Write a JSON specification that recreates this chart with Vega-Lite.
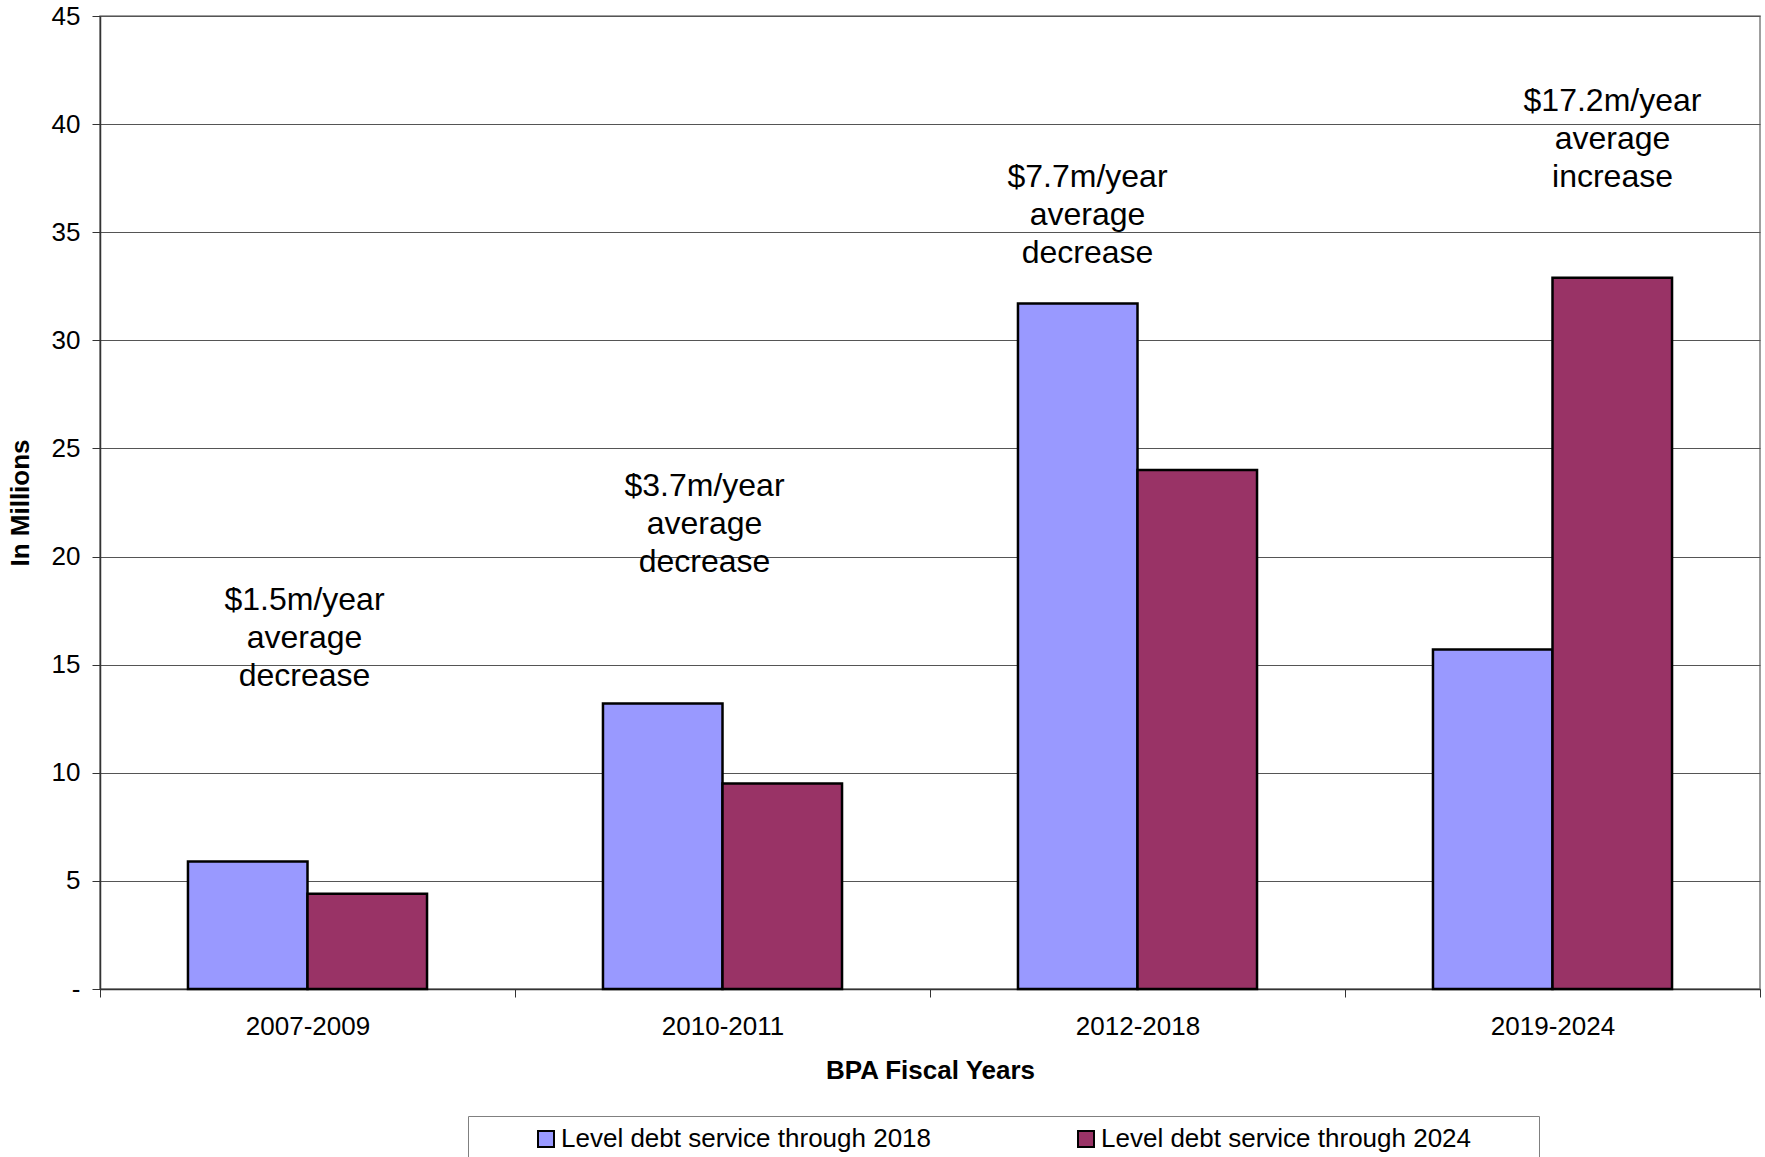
{
  "$schema": "https://vega.github.io/schema/vega-lite/v6.json",
  "autosize": "none",
  "width": 1660,
  "height": 973,
  "padding": {"left": 100, "top": 16, "right": 5, "bottom": 168},
  "background": "white",
  "config": {
    "font": "Liberation Sans",
    "view": {"stroke": "#808080", "strokeWidth": 1.5}
  },
  "datasets": {
    "bars": [
      {"period": "2007-2009", "series": "Level debt service through 2018", "value": 5.9},
      {"period": "2007-2009", "series": "Level debt service through 2024", "value": 4.4},
      {"period": "2010-2011", "series": "Level debt service through 2018", "value": 13.2},
      {"period": "2010-2011", "series": "Level debt service through 2024", "value": 9.5},
      {"period": "2012-2018", "series": "Level debt service through 2018", "value": 31.7},
      {"period": "2012-2018", "series": "Level debt service through 2024", "value": 24.0},
      {"period": "2019-2024", "series": "Level debt service through 2018", "value": 15.7},
      {"period": "2019-2024", "series": "Level debt service through 2024", "value": 32.9}
    ],
    "notes": [
      {"period": "2007-2009", "pos": 18.0, "text": ["$1.5m/year", "average", "decrease"]},
      {"period": "2010-2011", "pos": 23.25, "text": ["$3.7m/year", "average", "decrease"]},
      {"period": "2012-2018", "pos": 37.57, "text": ["$7.7m/year", "average", "decrease"]},
      {"period": "2019-2024", "pos": 41.06, "text": ["$17.2m/year", "average", "increase"]}
    ]
  },
  "layer": [
    {
      "data": {"name": "bars"},
      "mark": {"type": "bar", "stroke": "black", "strokeWidth": 2.5},
      "encoding": {
        "x": {
          "field": "period", "type": "nominal",
          "scale": {"paddingInner": 0, "paddingOuter": 0},
          "axis": {
            "title": "BPA Fiscal Years",
            "labelAngle": 0,
            "labelFontSize": 26,
            "labelColor": "black",
            "labelPadding": 16,
            "tickBand": "extent",
            "tickSize": 8,
            "tickColor": "#333",
            "domainColor": "#333",
            "domainWidth": 1.5,
            "titleFontSize": 26,
            "titleFontWeight": "bold",
            "titleColor": "black",
            "titlePadding": 18
          }
        },
        "xOffset": {"field": "series", "type": "nominal", "scale": {"paddingInner": 0, "paddingOuter": 0.736}},
        "y": {
          "field": "value", "type": "quantitative",
          "scale": {"domain": [0, 45], "nice": false},
          "axis": {
            "title": "In Millions",
            "values": [0, 5, 10, 15, 20, 25, 30, 35, 40, 45],
            "labelExpr": "datum.value == 0 ? '-' : datum.label",
            "labelFontSize": 26,
            "labelColor": "black",
            "labelPadding": 12,
            "tickSize": 8,
            "tickColor": "#333",
            "domainColor": "#333",
            "domainWidth": 1.5,
            "gridColor": "#555",
            "gridWidth": 1.2,
            "titleFontSize": 26,
            "titleFontWeight": "bold",
            "titleColor": "black",
            "titlePadding": 18
          }
        },
        "color": {
          "field": "series", "type": "nominal",
          "scale": {"range": ["#9999FF", "#993366"]},
          "legend": {
            "title": null,
            "orient": "none",
            "direction": "horizontal",
            "legendX": 368,
            "legendY": 1100,
            "padding": 10,
            "strokeColor": "#808080",
            "symbolType": "square",
            "symbolSize": 256,
            "symbolStrokeColor": "black",
            "symbolStrokeWidth": 2,
            "symbolOpacity": 1,
            "symbolOffset": 55,
            "labelFontSize": 26,
            "labelColor": "black",
            "labelOffset": 2,
            "labelLimit": 900,
            "labelExpr": "datum.label + '\u2800\u2800\u2800'",
            "columnPadding": 29
          }
        }
      }
    },
    {
      "data": {"name": "notes"},
      "transform": [{"filter": "datum.period == '2007-2009'"}],
      "mark": {"type": "text", "fontSize": 32, "lineHeight": 38, "align": "center", "baseline": "middle", "dx": -3, "color": "black"},
      "encoding": {"x": {"field": "period", "type": "nominal"}, "y": {"field": "pos", "type": "quantitative"}, "text": {"field": "text"}}
    },
    {
      "data": {"name": "notes"},
      "transform": [{"filter": "datum.period == '2010-2011'"}],
      "mark": {"type": "text", "fontSize": 32, "lineHeight": 38, "align": "center", "baseline": "middle", "dx": -18, "color": "black"},
      "encoding": {"x": {"field": "period", "type": "nominal"}, "y": {"field": "pos", "type": "quantitative"}, "text": {"field": "text"}}
    },
    {
      "data": {"name": "notes"},
      "transform": [{"filter": "datum.period == '2012-2018'"}],
      "mark": {"type": "text", "fontSize": 32, "lineHeight": 38, "align": "center", "baseline": "middle", "dx": -50, "color": "black"},
      "encoding": {"x": {"field": "period", "type": "nominal"}, "y": {"field": "pos", "type": "quantitative"}, "text": {"field": "text"}}
    },
    {
      "data": {"name": "notes"},
      "transform": [{"filter": "datum.period == '2019-2024'"}],
      "mark": {"type": "text", "fontSize": 32, "lineHeight": 38, "align": "center", "baseline": "middle", "dx": 60, "color": "black"},
      "encoding": {"x": {"field": "period", "type": "nominal"}, "y": {"field": "pos", "type": "quantitative"}, "text": {"field": "text"}}
    }
  ]
}
